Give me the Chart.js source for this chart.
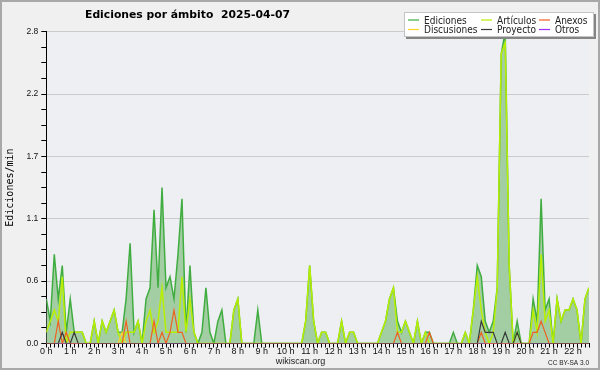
<!DOCTYPE html>
<html>
<head>
<meta charset="utf-8">
<script src="https://cdn.jsdelivr.net/npm/chart.js@4.4.0/dist/chart.umd.min.js"></script>
<style>
  html, body { margin: 0; padding: 0; background: #f0f0f0; }
  canvas { display: block; }
</style>
</head>
<body>
<canvas id="chart" width="600" height="370"></canvas>
<script>
    // 10-minute slots from 00:00 to 22:40, edits per minute
    const hourLabels = ['0 h', '1 h', '2 h', '3 h', '4 h', '5 h', '6 h', '7 h', '8 h', '9 h', '10 h', '11 h',
      '12 h', '13 h', '14 h', '15 h', '16 h', '17 h', '18 h', '19 h', '20 h', '21 h', '22 h'];

    const ediciones = [
      0.4, 0.2, 0.8, 0.4, 0.7, 0.1, 0.4, 0.1, 0.1, 0.1, 0, 0,
      0.2, 0, 0.2, 0.1, 0.2, 0.3, 0.1, 0.1, 0.4, 0.9, 0.1, 0.2,
      0, 0.4, 0.5, 1.2, 0.5, 1.4, 0.5, 0.6, 0.4, 0.8, 1.3, 0.1,
      0.7, 0.1, 0, 0.1, 0.5, 0.1, 0, 0.2, 0.3, 0, 0, 0.3,
      0.4, 0, 0, 0, 0, 0.3, 0, 0, 0, 0, 0, 0,
      0, 0, 0, 0, 0, 0.2, 0.7, 0.2, 0, 0.1, 0.1, 0,
      0, 0, 0.2, 0, 0.1, 0.1, 0, 0, 0, 0, 0, 0,
      0.1, 0.2, 0.4, 0.5, 0.2, 0.1, 0.2, 0.1, 0, 0.2, 0, 0.1,
      0.1, 0, 0, 0, 0, 0, 0.1, 0, 0, 0.1, 0, 0.3,
      0.7, 0.6, 0.2, 0.1, 0.2, 0.5, 2.6, 2.8, 0.7, 0, 0.2, 0,
      0, 0, 0.4, 0.2, 1.3, 0.3, 0.4, 0, 0.4, 0.2, 0.3, 0.3,
      0.4, 0.3, 0, 0.4, 0.5
    ];
    const articulos = [
      0.1, 0.2, 0.3, 0.2, 0.6, 0, 0.1, 0.1, 0.1, 0.1, 0, 0,
      0.2, 0, 0.2, 0.1, 0.2, 0.3, 0.1, 0, 0.1, 0.1, 0.1, 0.2,
      0, 0.2, 0.3, 0.1, 0.2, 0.5, 0.1, 0.1, 0.1, 0.1, 0.6, 0.1,
      0.4, 0.1, 0, 0, 0, 0, 0, 0, 0, 0, 0, 0.3,
      0.4, 0, 0, 0, 0, 0, 0, 0, 0, 0, 0, 0,
      0, 0, 0, 0, 0, 0.2, 0.7, 0.2, 0, 0.1, 0.1, 0,
      0, 0, 0.2, 0, 0.1, 0.1, 0, 0, 0, 0, 0, 0,
      0.1, 0.2, 0.4, 0.5, 0.1, 0.1, 0.2, 0.1, 0, 0.2, 0, 0.1,
      0, 0, 0, 0, 0, 0, 0, 0, 0, 0.1, 0, 0.3,
      0.6, 0.3, 0.1, 0, 0.1, 0.5, 2.6, 2.7, 0.7, 0, 0.1, 0,
      0, 0, 0.3, 0.1, 0.8, 0.2, 0.3, 0, 0.4, 0.2, 0.3, 0.3,
      0.4, 0.3, 0, 0.4, 0.5
    ];
    const anexos = [
      0, 0, 0, 0.2, 0, 0.1, 0, 0, 0, 0, 0, 0,
      0, 0, 0, 0, 0, 0, 0, 0, 0.2, 0, 0, 0,
      0, 0, 0, 0.2, 0, 0.1, 0, 0.1, 0.3, 0.1, 0.1, 0,
      0, 0, 0, 0, 0, 0, 0, 0, 0, 0, 0, 0,
      0, 0, 0, 0, 0, 0, 0, 0, 0, 0, 0, 0,
      0, 0, 0, 0, 0, 0, 0, 0, 0, 0, 0, 0,
      0, 0, 0, 0, 0, 0, 0, 0, 0, 0, 0, 0,
      0, 0, 0, 0, 0.1, 0, 0, 0, 0, 0, 0, 0,
      0.1, 0, 0, 0, 0, 0, 0, 0, 0, 0, 0, 0,
      0, 0.1, 0, 0, 0, 0, 0, 0, 0, 0, 0, 0,
      0, 0, 0.1, 0.1, 0.2, 0.1, 0, 0, 0, 0, 0, 0,
      0, 0, 0, 0, 0
    ];
    const discusiones = [
      0, 0, 0, 0, 0, 0, 0, 0, 0, 0, 0, 0,
      0, 0, 0, 0, 0, 0, 0, 0.1, 0, 0, 0, 0,
      0, 0, 0, 0, 0, 0, 0, 0, 0, 0, 0, 0,
      0, 0, 0, 0, 0, 0, 0, 0, 0, 0, 0, 0,
      0, 0, 0, 0, 0, 0, 0, 0, 0, 0, 0, 0,
      0, 0, 0, 0, 0, 0, 0, 0, 0, 0, 0, 0,
      0, 0, 0, 0, 0, 0, 0, 0, 0, 0, 0, 0,
      0, 0, 0, 0, 0, 0, 0, 0, 0, 0, 0, 0,
      0, 0, 0, 0, 0, 0, 0, 0, 0, 0, 0, 0,
      0, 0, 0, 0, 0, 0, 0, 0, 0, 0, 0, 0,
      0, 0, 0, 0, 0, 0, 0, 0, 0, 0, 0, 0,
      0, 0, 0, 0, 0
    ];
    const proyecto = [
      0, 0, 0, 0, 0.1, 0, 0, 0.1, 0, 0, 0, 0,
      0, 0, 0, 0, 0, 0, 0, 0, 0, 0, 0, 0,
      0, 0, 0, 0, 0, 0, 0, 0, 0, 0, 0, 0,
      0, 0, 0, 0, 0, 0, 0, 0, 0, 0, 0, 0,
      0, 0, 0, 0, 0, 0, 0, 0, 0, 0, 0, 0,
      0, 0, 0, 0, 0, 0, 0, 0, 0, 0, 0, 0,
      0, 0, 0, 0, 0, 0, 0, 0, 0, 0, 0, 0,
      0, 0, 0, 0, 0, 0, 0, 0, 0, 0, 0, 0,
      0, 0, 0, 0, 0, 0, 0, 0, 0, 0, 0, 0,
      0, 0.2, 0.1, 0.1, 0.1, 0, 0, 0.1, 0, 0, 0.1, 0,
      0, 0, 0, 0, 0, 0, 0, 0, 0, 0, 0, 0,
      0, 0, 0, 0, 0
    ];
    const otros = [
      0, 0, 0, 0, 0, 0, 0, 0, 0, 0, 0, 0,
      0, 0, 0, 0, 0, 0, 0, 0, 0, 0, 0, 0,
      0, 0, 0, 0, 0, 0, 0, 0, 0, 0, 0, 0,
      0, 0, 0, 0, 0, 0, 0, 0, 0, 0, 0, 0,
      0, 0, 0, 0, 0, 0, 0, 0, 0, 0, 0, 0,
      0, 0, 0, 0, 0, 0, 0, 0, 0, 0, 0, 0,
      0, 0, 0, 0, 0, 0, 0, 0, 0, 0, 0, 0,
      0, 0, 0, 0, 0, 0, 0, 0, 0, 0, 0, 0,
      0, 0, 0, 0, 0, 0, 0, 0, 0, 0, 0, 0,
      0, 0, 0, 0, 0, 0, 0, 0, 0, 0, 0, 0,
      0, 0, 0, 0, 0, 0, 0, 0, 0, 0, 0, 0,
      0, 0, 0, 0, 0
    ];

    const toPoints = arr => arr.map((y, i) => ({ x: i, y: y }));
    const isMajor = v => Math.round(v / 0.14) % 4 === 0;

    const line = (label, values, color, width, order) => ({
      label: label,
      data: toPoints(values),
      borderColor: color,
      borderWidth: width,
      fill: false,
      pointRadius: 0,
      tension: 0,
      order: order
    });

    const datasets = [
      line('Proyecto', proyecto, '#3a3a3a', 1.2, 1),
      line('Anexos', anexos, '#f06020', 1.2, 2),
      line('Otros', otros, '#9b30ff', 1.2, 3),
      line('Discusiones', discusiones, '#ffd22a', 1.2, 4),
      line('Artículos', articulos, '#b8ef00', 1.5, 5),
      Object.assign(line('Ediciones', ediciones, '#40ad40', 1.5, 6), {
        fill: 'origin',
        backgroundColor: '#a3cea3'
      })
    ];

    // legend layout as in the picture: three columns, two rows
    const legendCols = [['Ediciones', 'Discusiones'], ['Artículos', 'Proyecto'], ['Anexos', 'Otros']];

    const decor = {
      id: 'decor',
      beforeDraw(chart) {
        const { ctx, chartArea: a } = chart;
        ctx.save();
        ctx.fillStyle = '#f0f0f0';
        ctx.fillRect(0, 0, 600, 370);
        ctx.strokeStyle = '#a9a9a9';
        ctx.lineWidth = 2;
        ctx.strokeRect(1, 1, 598, 368);
        ctx.fillStyle = '#edeff2';
        ctx.fillRect(a.left, a.top, a.right - a.left, a.bottom - a.top);
        ctx.restore();
      },
      afterDraw(chart) {
        const ctx = chart.ctx;
        ctx.save();
        ctx.fillStyle = '#000';
        ctx.textBaseline = 'alphabetic';

        // title
        const title = 'Ediciones por ámbito  2025-04-07';
        ctx.font = 'bold 10.5px "DejaVu Sans"';
        const tw = ctx.measureText(title).width;
        ctx.save();
        ctx.translate(85, 17.5);
        ctx.scale(205 / tw, 1);
        ctx.fillText(title, 0, 0);
        ctx.restore();

        // legend box with shadow
        ctx.fillStyle = '#858585';
        ctx.fillRect(406, 14, 190, 25);
        ctx.fillStyle = '#ffffff';
        ctx.fillRect(404, 12, 190, 25);
        ctx.strokeStyle = '#c4c4c4';
        ctx.lineWidth = 1;
        ctx.strokeRect(404.5, 12.5, 189, 24);

        const lineX = [408, 481, 539];
        const textX = [424, 497, 555];
        const rowY = [20, 29.5];
        ctx.font = '10px "DejaVu Sans"';
        legendCols.forEach((col, c) => {
          col.forEach((name, r) => {
            const ds = datasets.find(d => d.label === name);
            ctx.strokeStyle = ds.borderColor;
            ctx.lineWidth = 1.2;
            ctx.beginPath();
            ctx.moveTo(lineX[c], rowY[r]);
            ctx.lineTo(lineX[c] + 11, rowY[r]);
            ctx.stroke();
            ctx.fillStyle = '#222';
            ctx.save();
            ctx.translate(textX[c], rowY[r] + 3.5);
            ctx.scale(0.9, 1);
            ctx.fillText(name, 0, 0);
            ctx.restore();
          });
        });

        // footer
        ctx.fillStyle = '#222';
        ctx.font = '9px "Liberation Sans"';
        ctx.textAlign = 'center';
        ctx.fillText('wikiscan.org', 300.5, 364);
        ctx.font = '6.5px "Liberation Sans"';
        ctx.textAlign = 'right';
        ctx.fillText('CC BY-SA 3.0', 589, 365);
        ctx.restore();
      }
    };

    const ctx = document.getElementById('chart').getContext('2d');
    const chart = new Chart(ctx, {
      type: 'line',
      data: { datasets: datasets },
      plugins: [decor],
      options: {
        responsive: false,
        animation: false,
        devicePixelRatio: 1,
        layout: { padding: { top: 31.7, right: 11, bottom: 0, left: 0 } },
        plugins: {
          legend: { display: false },
          tooltip: { enabled: false }
        },
        scales: {
          x: {
            type: 'linear',
            min: 0,
            max: 136,
            z: 1,
            afterFit(s) { s.height = 26.5; },
            grid: { drawOnChartArea: false, drawTicks: true, tickLength: 4, tickColor: '#000' },
            border: { color: '#000', width: 1 },
            ticks: {
              stepSize: 1,
              maxTicksLimit: 1000,
              autoSkip: false,
              maxRotation: 0,
              padding: -1,
              color: '#111',
              font: { family: 'Liberation Sans', size: 9 },
              callback: v => (v % 6 === 0 ? hourLabels[v / 6] : '')
            }
          },
          y: {
            min: 0,
            max: 2.8,
            afterFit(s) { s.width = 46.3; },
            grid: {
              color: c => (c.tick && isMajor(c.tick.value) ? '#cbcbcb' : 'rgba(0,0,0,0)'),
              tickColor: '#000',
              tickLength: 5
            },
            border: { color: '#000', width: 1 },
            ticks: {
              stepSize: 0.14,
              maxTicksLimit: 1000,
              autoSkip: false,
              padding: 3,
              color: '#111',
              font: { family: 'Liberation Sans', size: 8.5 },
              callback: v => (isMajor(v) ? v.toFixed(1) : '')
            },
            title: {
              display: true,
              text: 'Ediciones/min',
              color: '#000',
              font: { family: 'DejaVu Sans Mono', size: 10 },
              padding: { top: 4, bottom: 0 }
            }
          }
        }
      }
    });
</script>
</body>
</html>
